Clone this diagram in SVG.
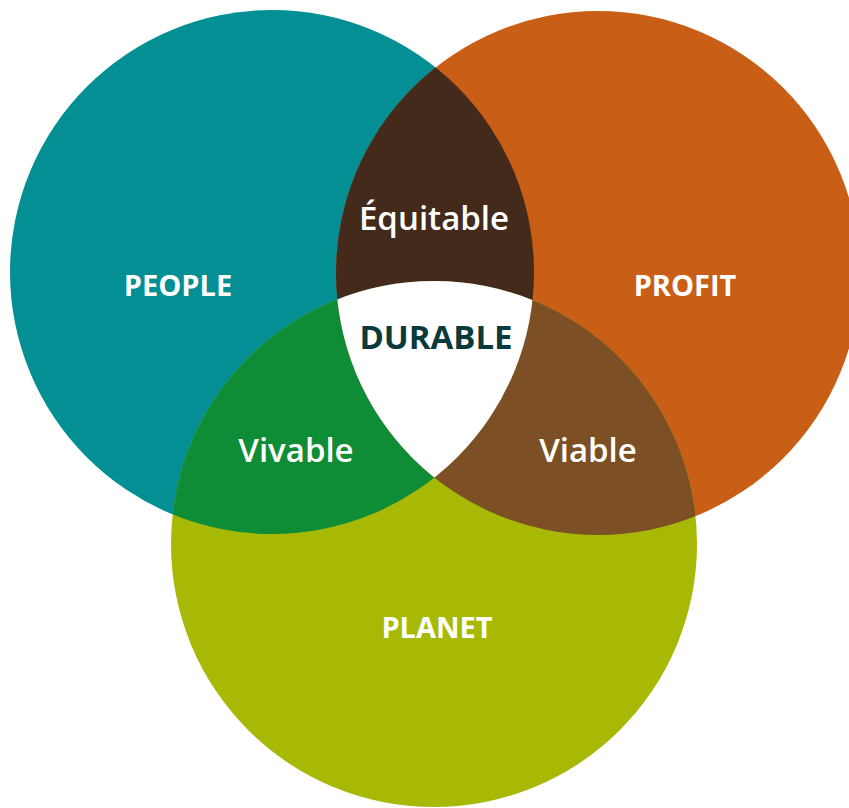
<svg xmlns="http://www.w3.org/2000/svg" width="849" height="808" viewBox="0 0 849 808">
<style>
.lbl{font-family:"Open Sans","Liberation Sans",sans-serif;font-weight:700;fill:#ffffff;text-anchor:middle}
.main{font-size:29px}
.mid{font-size:33px;font-weight:600}
.dur{font-size:33px;fill:#0a3a3b}
</style>
<defs>
<clipPath id="cPeople"><circle cx="272" cy="272" r="262"/></clipPath>
<clipPath id="cProfit"><circle cx="598" cy="273" r="262"/></clipPath>
<clipPath id="cPlanet"><circle cx="434" cy="544" r="263"/></clipPath>
</defs>
<rect width="849" height="808" fill="#ffffff"/>
<g id="people">
<circle cx="272" cy="272" r="262" fill="#038f94"/>
<text class="lbl main" x="178" y="296">PEOPLE</text>
</g>
<g id="profit">
<circle cx="598" cy="273" r="262" fill="#c95f16"/>
<text class="lbl main" x="685" y="296">PROFIT</text>
</g>
<g id="planet">
<circle cx="434" cy="544" r="263" fill="#a8b905"/>
<text class="lbl main" x="437" y="638">PLANET</text>
</g>
<g id="equitable">
<g clip-path="url(#cPeople)"><circle cx="598" cy="273" r="262" fill="#432a1a"/></g>
<text class="lbl mid" x="434" y="230">Équitable</text>
</g>
<g id="vivable">
<g clip-path="url(#cPeople)"><circle cx="434" cy="544" r="263" fill="#0f8d36"/></g>
<text class="lbl mid" x="296" y="462">Vivable</text>
</g>
<g id="viable">
<g clip-path="url(#cProfit)"><circle cx="434" cy="544" r="263" fill="#7d4f24"/></g>
<text class="lbl mid" x="588" y="462">Viable</text>
</g>
<g id="durable">
<g clip-path="url(#cPeople)"><g clip-path="url(#cProfit)"><circle cx="434" cy="544" r="263" fill="#ffffff"/></g></g>
<text class="lbl dur" x="436" y="349">DURABLE</text>
</g>
<g id="connectors"/>
</svg>
